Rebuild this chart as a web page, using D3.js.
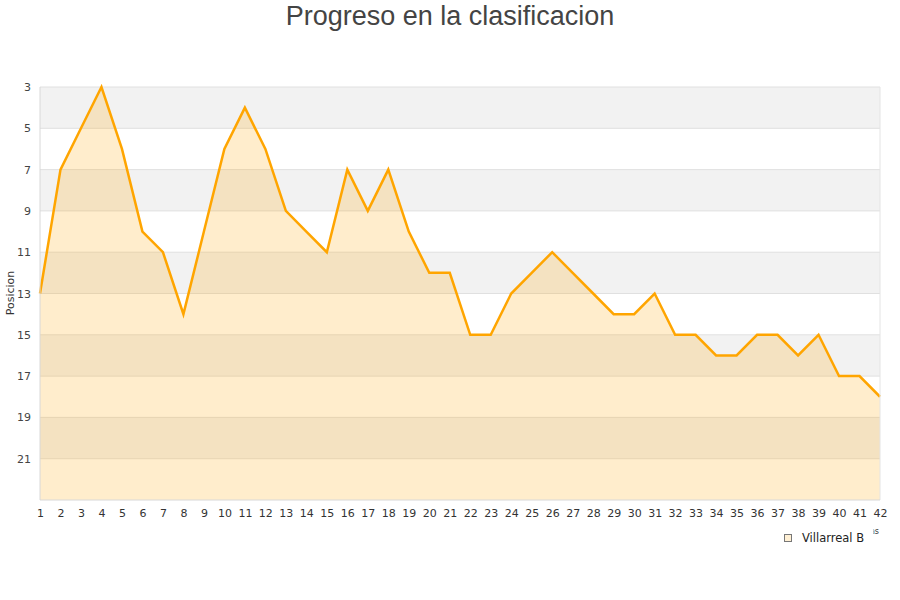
<!DOCTYPE html>
<html>
<head>
<meta charset="utf-8">
<script src="https://cdn.jsdelivr.net/npm/d3@7"></script>
<style>
  body { margin: 0; background: #fff; }
  text { font-family: "DejaVu Sans", sans-serif; }
</style>
</head>
<body>
<div id="chart"></div>
<script>
const jornadas = d3.range(1, 43);
const posiciones = [13, 7, 5, 3, 6, 10, 11, 14, 10, 6, 4, 6, 9, 10, 11, 7, 9, 7, 10, 12,
  12, 15, 15, 13, 12, 11, 12, 13, 14, 14, 13, 15, 15, 16, 16, 15, 15, 16, 15, 17, 17, 18];
const yTicks = [3, 5, 7, 9, 11, 13, 15, 17, 19, 21];
const bands = [[3, 5], [7, 9], [11, 13], [15, 17], [19, 21]];
const equipo = "Villarreal B";

const width = 900, height = 600;
const margin = { top: 87, right: 20, bottom: 100, left: 40 };

const svg = d3.select("#chart").append("svg")
  .attr("width", width)
  .attr("height", height);

const x = d3.scaleLinear().domain([1, 42]).range([margin.left, width - margin.right]);
const y = d3.scaleLinear().domain([3, 23]).range([margin.top, height - margin.bottom]);

const data = jornadas.map((j, i) => ({ j, p: posiciones[i] }));

// alternating bands
svg.append("g").selectAll("rect").data(bands).enter().append("rect")
  .attr("x", x(1))
  .attr("y", d => y(d[0]))
  .attr("width", x(42) - x(1))
  .attr("height", d => y(d[1]) - y(d[0]))
  .attr("fill", "#f2f2f2");

// grid
svg.append("g").selectAll("line").data(yTicks).enter().append("line")
  .attr("x1", x(1)).attr("x2", x(42))
  .attr("y1", d => y(d)).attr("y2", d => y(d))
  .attr("stroke", "#e0e0e0")
  .attr("stroke-width", 1);

const area = d3.area()
  .x(d => x(d.j))
  .y0(y(23))
  .y1(d => y(d.p));

svg.append("path")
  .datum(data)
  .attr("fill", "#ffa500")
  .attr("fill-opacity", 0.2)
  .attr("d", area);

const line = d3.line()
  .x(d => x(d.j))
  .y(d => y(d.p));

svg.append("path")
  .datum(data)
  .attr("fill", "none")
  .attr("stroke", "#ffa500")
  .attr("stroke-width", 2.5)
  .attr("d", line);

// frame: left, right, bottom
svg.append("line")
  .attr("x1", x(1)).attr("x2", x(1)).attr("y1", y(3)).attr("y2", y(23))
  .attr("stroke", "#d8d8d8");
svg.append("line")
  .attr("x1", x(42)).attr("x2", x(42)).attr("y1", y(3)).attr("y2", y(23))
  .attr("stroke", "#e4e4e4");
svg.append("line")
  .attr("x1", x(1)).attr("x2", x(42)).attr("y1", y(23)).attr("y2", y(23))
  .attr("stroke", "#d8d8d8");

// y axis
svg.append("g")
  .attr("transform", `translate(${x(1) - 9},0)`)
  .call(d3.axisLeft(y).tickValues(yTicks).tickSize(0).tickPadding(0))
  .call(g => g.select(".domain").remove())
  .selectAll("text")
  .style("font-family", "DejaVu Sans")
  .style("font-size", "11px")
  .style("fill", "#444");

// x axis
svg.append("g")
  .attr("transform", `translate(0,${y(23) + 6})`)
  .call(d3.axisBottom(x).tickValues(jornadas).tickFormat(d3.format("d")).tickSize(0).tickPadding(3))
  .call(g => g.select(".domain").remove())
  .selectAll("text")
  .style("font-family", "DejaVu Sans")
  .style("font-size", "11px")
  .style("fill", "#333");

// y axis title
svg.append("text")
  .attr("transform", `translate(14,293) rotate(-90)`)
  .attr("text-anchor", "middle")
  .style("font-size", "11px")
  .style("fill", "#333")
  .text("Posicion");

// x axis title, only its last letter shows past the legend
svg.append("clipPath").attr("id", "tail")
  .append("rect").attr("x", 873.5).attr("y", 520).attr("width", 26).attr("height", 20);
svg.append("text")
  .attr("x", 879)
  .attr("y", 534)
  .attr("text-anchor", "end")
  .attr("clip-path", "url(#tail)")
  .style("font-size", "8px")
  .style("fill", "#333")
  .text("Jornadas");

// legend
const legend = svg.append("g");
legend.append("rect")
  .attr("x", 784.5).attr("y", 534.5)
  .attr("width", 7).attr("height", 7)
  .attr("fill", "#fff0d4")
  .attr("stroke", "#777")
  .attr("stroke-width", 1);
legend.append("text")
  .attr("x", 802).attr("y", 541.5)
  .style("font-size", "11.5px")
  .style("fill", "#222")
  .text(equipo);

// title
svg.append("text")
  .attr("x", width / 2)
  .attr("y", 25)
  .attr("text-anchor", "middle")
  .style("font-family", "Liberation Sans, Arial, sans-serif")
  .style("font-size", "27px")
  .style("fill", "#444")
  .text("Progreso en la clasificacion");
</script>
</body>
</html>
